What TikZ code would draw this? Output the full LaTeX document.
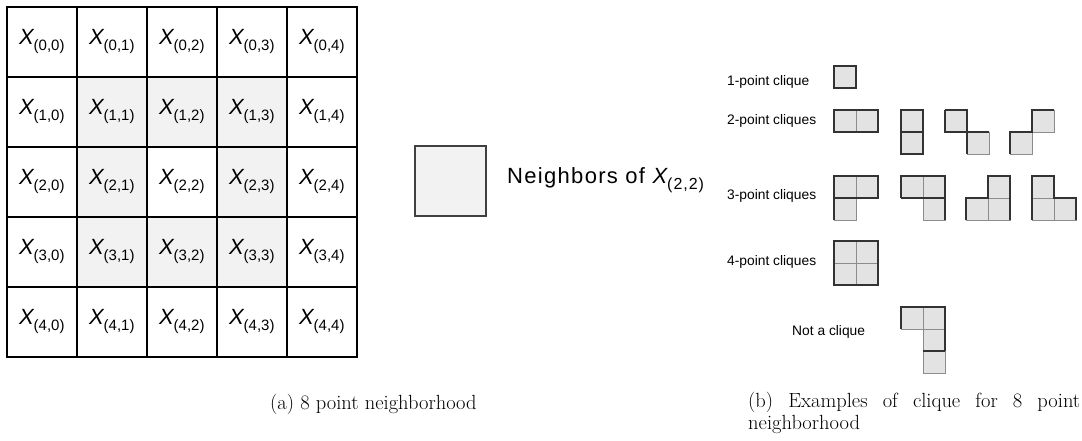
\documentclass[tikz,border=0pt]{standalone}
\usepackage{fontspec}
\setsansfont{Liberation Sans}
\begin{document}
\begin{tikzpicture}[x=1pt,y=-1pt,
  gridcell/.style={draw=black,line width=1.6pt,minimum width=70pt,minimum height=70pt,inner sep=0pt,anchor=north west,font=\sffamily},
  nbr/.style={fill=black!5},
  qc/.style={draw=black!45,line width=0.8pt,fill=black!11,minimum size=22pt,inner sep=0pt,anchor=north west},
  qout/.style={draw=black!80,line width=1.3pt},
  qlabel/.style={anchor=west,font=\sffamily\fontsize{13.8}{15}\selectfont,inner sep=0pt},
  captext/.style={font=\fontsize{20.5}{22}\selectfont,inner sep=0pt}]
\useasboundingbox (0,0) rectangle (1082,440);
\newcommand{\xsub}[3]{{\itshape X}\raisebox{-0.28em}{\fontsize{#3}{#3}\selectfont(#1,#2)}}
% grid
\foreach \i in {0,...,4}{
  \foreach \j in {0,...,4}{
    \node[gridcell] (c\i\j) at ({6+70*\j},{6+70*\i}) {\fontsize{22}{24}\selectfont\xsub{\i}{\j}{15}};
  }
}
\foreach \i/\j in {1/1,1/2,1/3,2/1,2/3,3/1,3/2,3/3}{
  \node[gridcell,nbr] (n\i\j) at ({6+70*\j},{6+70*\i}) {\fontsize{22}{24}\selectfont\xsub{\i}{\j}{15}};
}
% legend
\node[draw=black!75,line width=1.5pt,fill=black!5,minimum width=71pt,minimum height=70pt,inner sep=0pt,anchor=north west] (leg) at (414,145) {};
\node[anchor=west,inner sep=0pt,font=\sffamily\fontsize{22}{24}\selectfont\addfontfeatures{LetterSpace=6}] (legt) at (507,180) {Neighbors of \xsub{2}{2}{16}};
% clique labels
\node[qlabel] (l1) at (727,82) {1-point clique};
\node[qlabel] (l2) at (727,121) {2-point cliques};
\node[qlabel] (l3) at (727,196) {3-point cliques};
\node[qlabel] (l4) at (727,262) {4-point cliques};
\node[qlabel] (l5) at (792,332) {Not a clique};
% 1-point
\node[qc] (a1) at (834,66) {};
\draw[qout] (834,66) rectangle (856,88);
% 2-point
\node[qc] (b1) at (834,110) {}; \node[qc] (b2) at (856,110) {};
\draw[qout] (834,110) rectangle (878,132);
\node[qc] (b3) at (901,110) {}; \node[qc] (b4) at (901,132) {};
\draw[qout] (901,110) rectangle (923,154); \draw[qout] (901,132) -- (923,132);
\node[qc] (b5) at (945,110) {}; \node[qc] (b6) at (967,132) {};
\draw[qout] (945,110) -- (967,110) -- (967,132) -- (989,132) (945,110) -- (945,132) -- (967,132) -- (967,154);
\node[qc] (b7) at (1032,110) {}; \node[qc] (b8) at (1010,132) {};
\draw[qout] (1010,154) -- (1010,132) -- (1032,132) -- (1032,110) -- (1054,110);
% 3-point
\node[qc] (c1) at (834,176) {}; \node[qc] (c2) at (856,176) {}; \node[qc] (c3) at (834,198) {};
\draw[qout] (834,220) -- (834,176) -- (878,176) -- (878,198) -- (834,198);
\node[qc] (c4) at (901,176) {}; \node[qc] (c5) at (923,176) {}; \node[qc] (c6) at (923,198) {};
\draw[qout] (901,198) -- (901,176) -- (945,176) -- (945,220) (901,198) -- (945,198);
\node[qc] (c7) at (988,176) {}; \node[qc] (c8) at (966,198) {}; \node[qc] (c9) at (988,198) {};
\draw[qout] (966,220) -- (966,198) -- (988,198) -- (988,176) -- (1010,176) -- (1010,220);
\node[qc] (c10) at (1032,176) {}; \node[qc] (c11) at (1032,198) {}; \node[qc] (c12) at (1054,198) {};
\draw[qout] (1032,220) -- (1032,176) -- (1054,176) -- (1054,198) -- (1076,198) -- (1076,220);
% 4-point
\node[qc] (d1) at (834,241) {}; \node[qc] (d2) at (856,241) {};
\node[qc] (d3) at (834,263) {}; \node[qc] (d4) at (856,263) {};
\draw[qout] (834,241) rectangle (878,285);
% not a clique
\node[qc] (e1) at (901,307) {}; \node[qc] (e2) at (923,307) {};
\node[qc] (e3) at (923,329) {}; \node[qc] (e4) at (923,351) {};
\draw[qout] (901,329) -- (901,307) -- (945,307) -- (945,351) (923,351) -- (945,351);
% captions
\node[captext,anchor=west] (capa) at (270,404) {(a) 8 point neighborhood};
\node[captext,anchor=north west,text width=332pt,align=justify] (capb) at (748,392) {(b) Examples of clique for 8 point \mbox{neighborhood}};
\end{tikzpicture}
\end{document}
